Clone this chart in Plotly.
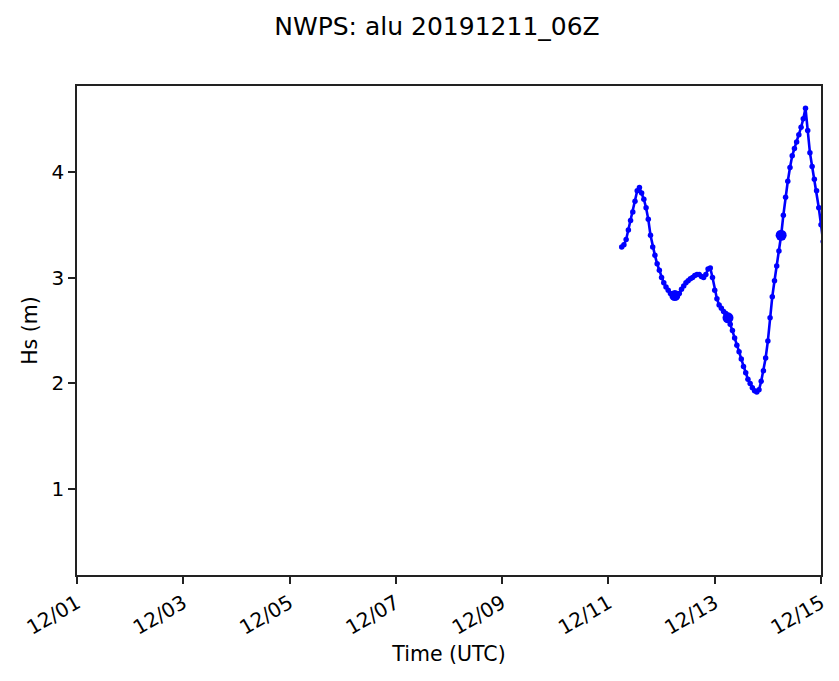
import pandas as pd
import plotly.graph_objects as go

# Hourly significant wave height, starting 2019-12-11 06Z
start_time = "2019-12-11 06:00"
hs_values = [
    3.29, 3.31, 3.36, 3.45, 3.54, 3.62, 3.72, 3.82, 3.85, 3.80,
    3.74, 3.66, 3.55, 3.40, 3.29, 3.21, 3.13, 3.07, 3.00, 2.95,
    2.91, 2.88, 2.85, 2.84, 2.83, 2.83, 2.85, 2.89, 2.92, 2.95,
    2.97, 2.99, 3.00, 3.02, 3.03, 3.03, 3.01, 3.00, 3.03, 3.08,
    3.09, 3.00, 2.88, 2.80, 2.74, 2.71, 2.68, 2.66, 2.62, 2.56,
    2.50, 2.43, 2.36, 2.30, 2.23, 2.16, 2.10, 2.04, 2.00, 1.96,
    1.93, 1.92, 1.94, 2.02, 2.12, 2.24, 2.40, 2.62, 2.82, 2.97,
    3.11, 3.25, 3.40, 3.59, 3.76, 3.91, 4.04, 4.15, 4.22, 4.28,
    4.35, 4.42, 4.50, 4.60, 4.39, 4.18, 4.05, 3.93, 3.82, 3.66,
    3.50, 3.34,
]
daily_marker_times = ["2019-12-12 06:00", "2019-12-13 06:00", "2019-12-14 06:00"]
tick_dates = ["2019-12-01", "2019-12-03", "2019-12-05", "2019-12-07",
              "2019-12-09", "2019-12-11", "2019-12-13", "2019-12-15"]
tick_labels = ["12/01", "12/03", "12/05", "12/07", "12/09", "12/11", "12/13", "12/15"]
y_ticks = [1, 2, 3, 4]

times = pd.date_range(start_time, periods=len(hs_values), freq="h")
series = pd.Series(hs_values, index=times)
big_t = pd.to_datetime(daily_marker_times)
big_v = series.loc[big_t].values

fig = go.Figure()
fig.add_trace(go.Scatter(
    x=times, y=hs_values, mode="lines+markers",
    line=dict(color="#0000ff", width=2.6),
    marker=dict(color="#0000ff", size=5.5),
    showlegend=False,
))
fig.add_trace(go.Scatter(
    x=big_t, y=big_v, mode="markers",
    marker=dict(color="#0000ff", size=11),
    showlegend=False,
))

font = "DejaVu Sans, sans-serif"
fig.update_layout(
    width=839, height=681,
    margin=dict(l=77, r=18, t=86, b=106),
    plot_bgcolor="white", paper_bgcolor="white",
    font=dict(family=font, size=20, color="black"),
    title=dict(text="NWPS: alu 20191211_06Z", x=437 / 839, xanchor="center",
               y=1 - 26 / 681, yanchor="middle", font=dict(size=25, family=font)),
    xaxis=dict(
        range=["2019-12-01", "2019-12-15"],
        tickvals=pd.to_datetime(tick_dates), ticktext=tick_labels,
        tickangle=-30, ticks="outside", ticklen=7, tickwidth=1.5,
        tickcolor="#222", showline=True, linecolor="#222", linewidth=1.5,
        mirror=True, showgrid=False, zeroline=False,
        title=dict(text="Time (UTC)", standoff=8, font=dict(size=20.5)),
        tickfont=dict(size=20),
        automargin=False,
    ),
    yaxis=dict(
        range=[0.19, 4.81],
        tickvals=y_ticks, ticks="outside", ticklen=7, tickwidth=1.5,
        tickcolor="#222", showline=True, linecolor="#222", linewidth=1.5,
        mirror=True, showgrid=False, zeroline=False,
        title=dict(text="Hs (m)", standoff=8, font=dict(size=20.5)),
        tickfont=dict(size=20),
        automargin=False,
    ),
)

fig.write_html("out.html", config={"displayModeBar": False},
               post_script="document.body.style.margin='0';")
